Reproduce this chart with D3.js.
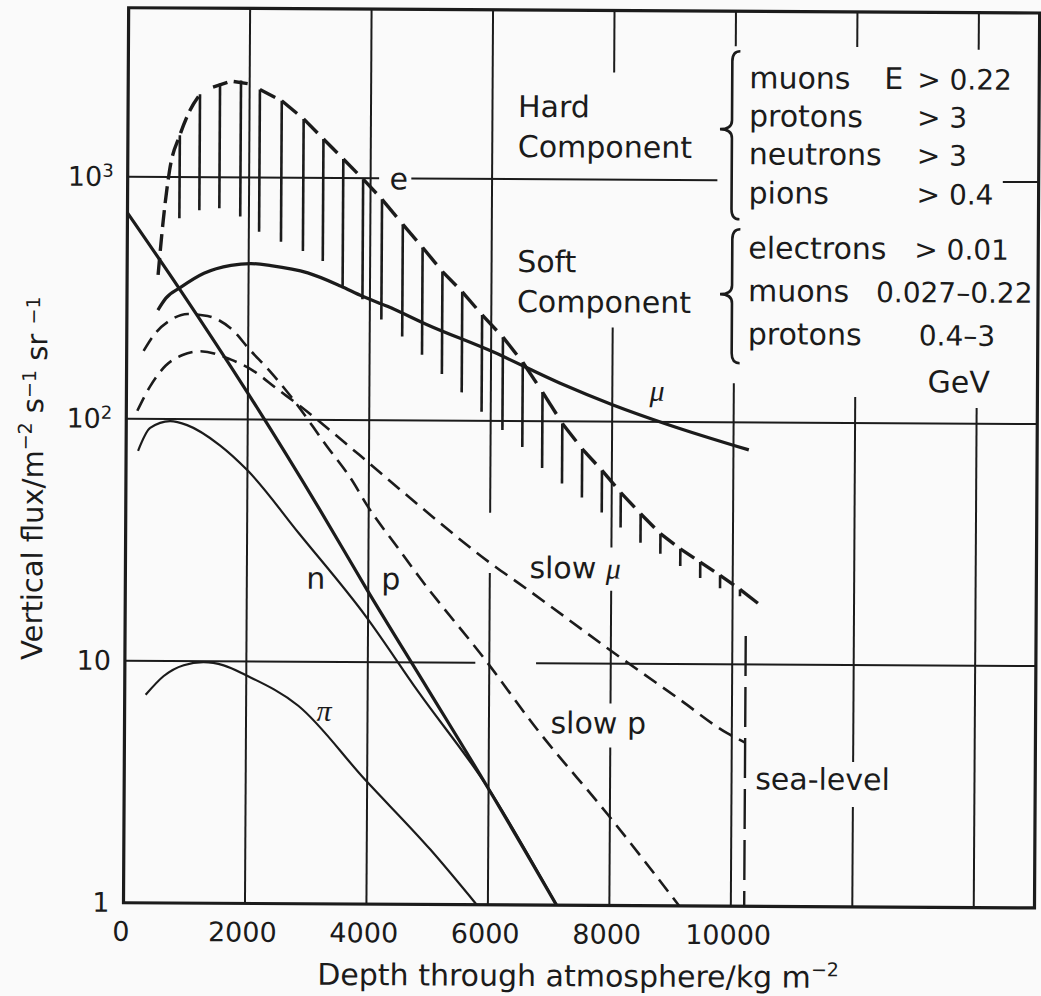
<!DOCTYPE html>
<html>
<head>
<meta charset="utf-8">
<script src="https://cdn.jsdelivr.net/npm/d3@7"></script>
<style>
  html, body { margin: 0; padding: 0; background: #fafafa; }
  svg { display: block; }
  text { font-family: "DejaVu Sans", sans-serif; fill: #1b1b1b; }
  .greek { font-family: "Liberation Serif", "DejaVu Serif", serif; font-style: italic; }
  .num { font-size: 28px; }
</style>
</head>
<body>
<svg id="chart" width="1041" height="996"></svg>
<script>
// Vertical flux of the cosmic-ray components versus depth through the atmosphere.

// ---- axes ----
const depthTicks = [0, 2000, 4000, 6000, 8000, 10000];
const fluxTicks = [1, 10, 100, 1000];

// grid lines, each broken where the figure leaves room for text
const gridDepths = [2000, 4000, 6000, 8000, 10000, 12000, 14000];
const gridDepthSpans = [
  [[1, 5000]],
  [[1, 5000]],
  [[41.7, 5000], [1, 23.5]],
  [[2770, 5000], [30.2, 245], [6.84, 20.0], [1, 4.5]],
  [[3580, 5000], [1, 145]],
  [[3580, 5000], [3.97, 128], [1, 2.59]],
  [[3510, 5000], [1, 116]]
];
const gridFlux = [10, 100, 1000];
const gridFluxSpans = [
  [[0, 5770], [6770, 15000]],
  [[0, 15000]],
  [[0, 4140], [4670, 9710], [14410, 15000]]
];

// ---- electrons: upper edge of the band and the foot of each hatch ----
const eDepth = [510, 590, 690, 855, 1020, 1183, 1512, 1857, 2169, 2530, 2892, 3220, 3549, 3877,
  4190, 4535, 4863, 5192, 5520, 5849, 6194, 6523, 6851, 7180, 7509, 7837, 8149, 8478, 8806,
  9135, 9464, 9792, 10121, 10417];
const eUpper = [394, 664, 1069, 1491, 1892, 2203, 2445, 2518, 2311, 2081, 1753, 1449, 1199, 991,
  819, 646, 519, 413, 341, 274, 222, 175, 132, 98, 77, 62.8, 50.9, 41.7, 34.5,
  29.9, 26.4, 23.3, 20.4, 17.9];
const eLower = [null, null, null, 677, null, 731, 745, 690, 598, 544, 499, 454, 358, 316,
  261, 222, 187, 156, 131, 109, 91.8, 78.1, 64, 55.4, 48.5, 42.1, 36.5, 31.6, 28.5,
  25.4, 22.7, 20.6, 19.1, null];

// ---- hard muons ----
const muDepth = [510, 641, 887, 1265, 1709, 2037, 2366, 2974, 3516, 3877, 4288, 4945, 6030, 7131, 8002, 8938, 10253];
const muFlux = [282, 316, 351, 401, 433, 441, 433, 405, 358, 325, 296, 249, 193, 144, 117.5, 97.2, 77];

// ---- protons ----
const pDepth = [0, 855, 2004, 3187, 3976, 4995, 5981, 7131];
const pFlux = [710, 348, 128, 42.9, 20.0, 7.73, 3.07, 1.0];

// ---- neutrons ----
const nDepth = [197, 394, 723, 1002, 1544, 2004, 2859, 3960, 4830, 5981, 7131];
const nFlux = [73.8, 91.8, 98.1, 94.5, 78.1, 61.5, 33.8, 15.5, 7.59, 3.07, 1.0];

// ---- pions ----
const piDepth = [345, 641, 969, 1298, 1627, 2004, 2859, 3960, 5044, 5816];
const piFlux = [7.24, 8.67, 9.62, 9.91, 9.62, 8.75, 6.58, 3.28, 1.69, 1.0];

// ---- slow protons ----
const slowPDepth = [279, 476, 723, 1002, 1331, 1709, 2037, 2366, 2695, 3302, 3730, 3960, 4502, 4830, 5932, 6802, 7952, 9151];
const slowPFlux = [191, 227, 257, 272, 267, 238, 193, 158, 126, 78.1, 56, 45, 29.3, 22.7, 10.3, 5.29, 2.40, 1.0];

// ---- slow muons ----
const slowMuDepth = [181, 394, 641, 920, 1216, 1709, 2087, 2481, 2859, 3845, 4830, 6096, 6474, 8002, 9102, 9924, 10220];
const slowMuFlux = [108, 137, 166, 184, 191, 177, 159, 134, 114, 71.7, 44.5, 24.9, 21.4, 11.3, 7.24, 5.19, 4.75];

// ---- sea level ----
const seaLevelDepth = 10220;
const seaLevelTopFlux = 13.1;

// ---------------------------------------------------------------
const ink = "#1b1b1b";
const svg = d3.select("#chart");
const x = d3.scaleLinear().domain([0, 15000]).range([126, 1037]);
const y = d3.scaleLog().domain([1, 5000]).range([905, 10]);

const root = svg.append("g").attr("transform", "rotate(0.33 520 470)");

// grid
const vSegs = gridDepths.flatMap((d, i) => gridDepthSpans[i].map(s => ({ d, a: s[0], b: s[1] })));
const hSegs = gridFlux.flatMap((f, i) => gridFluxSpans[i].map(s => ({ f, a: s[0], b: s[1] })));
const grid = root.append("g").attr("stroke", ink).attr("stroke-width", 2);
grid.selectAll("line.v").data(vSegs).join("line").attr("class", "v")
  .attr("x1", s => x(s.d)).attr("x2", s => x(s.d))
  .attr("y1", s => y(s.a)).attr("y2", s => y(s.b));
grid.selectAll("line.h").data(hSegs).join("line").attr("class", "h")
  .attr("y1", s => y(s.f)).attr("y2", s => y(s.f))
  .attr("x1", s => x(s.a)).attr("x2", s => x(s.b));

// frame
root.append("rect")
  .attr("x", x(0)).attr("y", y(5000))
  .attr("width", x(15000) - x(0)).attr("height", y(1) - y(5000))
  .attr("fill", "none").attr("stroke", ink).attr("stroke-width", 3.2);

// axes
const yAxis = d3.axisLeft(y).tickValues(fluxTicks).tickSize(0).tickPadding(14);
root.append("g").attr("transform", `translate(${x(0)},0)`)
  .call(yAxis)
  .attr("font-size", 27).attr("font-family", "DejaVu Sans, sans-serif").attr("color", ink)
  .call(g => g.select(".domain").remove())
  .call(g => g.selectAll(".tick text").each(function (d) {
    const t = d3.select(this);
    const e = Math.round(Math.log10(d));
    t.text(null);
    if (e >= 2) {
      t.append("tspan").text("10");
      t.append("tspan").attr("font-size", 18).attr("dy", "-0.5em").text(e);
    } else {
      t.text(d3.format("d")(d));
    }
  }));

const xAxis = d3.axisBottom(x).tickValues(depthTicks).tickSize(0).tickPadding(19).tickFormat(d3.format("d"));
root.append("g").attr("transform", `translate(-3,${y(1)})`)
  .call(xAxis)
  .attr("font-size", 27).attr("font-family", "DejaVu Sans, sans-serif").attr("color", ink)
  .call(g => g.select(".domain").remove());

// curves
const line = d3.line().x(p => x(p[0])).y(p => y(p[1])).curve(d3.curveMonotoneX);
const zip = (a, b) => a.map((v, i) => [v, b[i]]);
const curves = root.append("g").attr("fill", "none").attr("stroke", ink).attr("stroke-linecap", "butt");

curves.append("path").attr("d", line(zip(piDepth, piFlux))).attr("stroke-width", 2.2);
curves.append("path").attr("d", line(zip(nDepth, nFlux))).attr("stroke-width", 2.2);
curves.append("path").attr("d", line(zip(pDepth, pFlux))).attr("stroke-width", 3.2);
curves.append("path").attr("d", line(zip(muDepth, muFlux))).attr("stroke-width", 3.2);
curves.append("path").attr("d", line(zip(slowPDepth, slowPFlux)))
  .attr("stroke-width", 2.6).attr("stroke-dasharray", "15,8");
curves.append("path").attr("d", line(zip(slowMuDepth, slowMuFlux)))
  .attr("stroke-width", 2.6).attr("stroke-dasharray", "15,8");

// sea level
curves.append("line")
  .attr("x1", x(seaLevelDepth)).attr("x2", x(seaLevelDepth))
  .attr("y1", y(seaLevelTopFlux)).attr("y2", y(1))
  .attr("stroke-width", 2.4).attr("stroke-dasharray", "40,11");

// electrons: rising edge dashed, then one dash starting at every hatch
const ePts = eDepth.map((d, i) => [x(d), y(eUpper[i])]);
const riseEnd = eDepth.indexOf(1183);
curves.append("path")
  .attr("d", d3.line().curve(d3.curveMonotoneX)(ePts.slice(0, riseEnd + 1)))
  .attr("stroke-width", 3.4).attr("stroke-dasharray", "17,7");

const lerp = (a, b, t) => [a[0] + (b[0] - a[0]) * t, a[1] + (b[1] - a[1]) * t];
const dashSegs = [];
let k = 0;
for (let i = riseEnd + 1; i < ePts.length - 1; i++) {
  let a, b;
  if (k < 2) {
    a = lerp(ePts[i], ePts[i - 1], 0.35);
    b = lerp(ePts[i], ePts[i + 1], 0.35);
  } else {
    a = ePts[i];
    b = lerp(ePts[i], ePts[i + 1], i + 1 === ePts.length - 1 ? 1 : 0.7);
  }
  dashSegs.push([a, b]);
  k++;
}
curves.selectAll("line.edash").data(dashSegs).join("line").attr("class", "edash")
  .attr("x1", s => s[0][0]).attr("y1", s => s[0][1])
  .attr("x2", s => s[1][0]).attr("y2", s => s[1][1])
  .attr("stroke-width", 3.4);

const hatchIdx = eDepth.map((d, i) => i).filter(i => eLower[i] !== null);
curves.selectAll("line.hatch").data(hatchIdx).join("line").attr("class", "hatch")
  .attr("x1", i => x(eDepth[i])).attr("x2", i => x(eDepth[i]))
  .attr("y1", i => y(eUpper[i])).attr("y2", i => y(eLower[i]))
  .attr("stroke-width", 2.6);

// braces
function brace(xs, yTop, yMid, yBot) {
  return `M${xs + 8},${yTop} Q${xs},${yTop} ${xs},${yTop + 10} L${xs},${yMid - 9} ` +
    `Q${xs},${yMid} ${xs - 12},${yMid} Q${xs},${yMid} ${xs},${yMid + 9} ` +
    `L${xs},${yBot - 10} Q${xs},${yBot} ${xs + 8},${yBot}`;
}
const braces = root.append("g").attr("fill", "none").attr("stroke", ink).attr("stroke-width", 2.6);
braces.append("path").attr("d", brace(730, 50, 128, 218));
braces.append("path").attr("d", brace(731, 228, 293, 362));

// text
const T = root.append("g").attr("font-size", 30);
const put = (s, px, py, cls) => T.append("text").attr("x", px).attr("y", py).attr("class", cls || null).text(s);

put("Hard", 516, 117);
put("Component", 516, 157);
put("Soft", 516, 272);
put("Component", 516, 312);

put("muons", 747, 87); put("E", 882, 87); put("> 0.22", 915, 87, "num");
put("protons", 747, 125); put("> 3", 915, 125, "num");
put("neutrons", 747, 163); put("> 3", 915, 163, "num");
put("pions", 747, 202); put("> 0.4", 915, 202, "num");
put("electrons", 747, 257); put("> 0.01", 913, 257, "num");
put("muons", 747, 300); put("0.027\u20130.22", 875, 300, "num");
put("protons", 747, 343); put("0.4\u20133", 918, 343, "num");
put("GeV", 927, 390);

put("e", 388, 190);
put("\u03bc", 649, 400, "greek");
put("n", 307, 590);
put("p", 382, 590);
put("\u03c0", 318, 722, "greek");
const sm = T.append("text").attr("x", 530).attr("y", 578);
sm.append("tspan").text("slow ");
sm.append("tspan").attr("class", "greek").text("\u03bc");
put("slow p", 552, 733);
put("sea-level", 757, 788);

// axis titles
const xt = root.append("text").attr("x", 581).attr("y", 986).attr("text-anchor", "middle").attr("font-size", 30);
xt.append("tspan").text("Depth through atmosphere/kg m");
xt.append("tspan").attr("font-size", 19).attr("dy", "-0.6em").text("\u22122");

const yt = root.append("text").attr("transform", "translate(43,481) rotate(-90)")
  .attr("text-anchor", "middle").attr("font-size", 29);
yt.append("tspan").text("Vertical flux/m");
yt.append("tspan").attr("font-size", 19).attr("dy", "-0.6em").text("\u22122");
yt.append("tspan").attr("dy", "0.38em").text(" s");
yt.append("tspan").attr("font-size", 19).attr("dy", "-0.38em").text("\u22121");
yt.append("tspan").attr("dy", "0.38em").text(" sr ");
yt.append("tspan").attr("font-size", 19).attr("dy", "-0.38em").text("\u22121");
</script>
</body>
</html>
